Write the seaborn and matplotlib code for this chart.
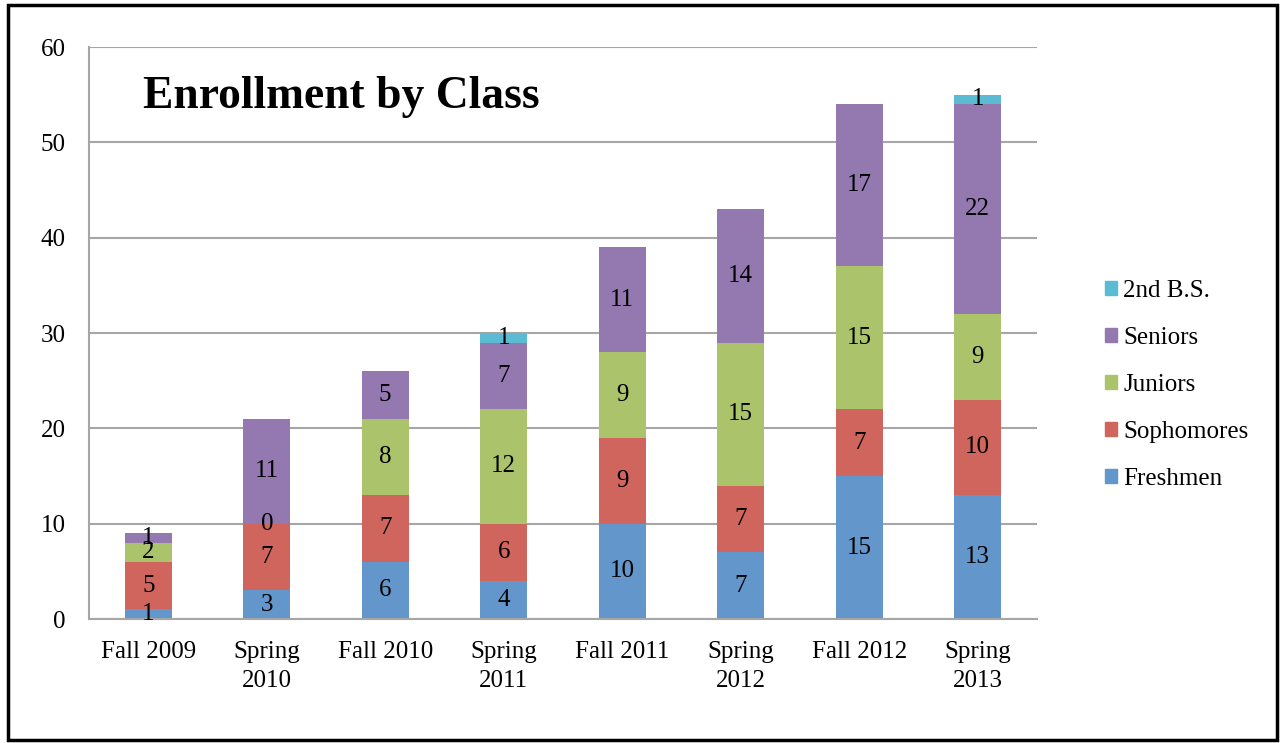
import matplotlib.pyplot as plt
import numpy as np
import seaborn as sns
from matplotlib.patches import Patch, Rectangle

sns.set_style("white")
plt.rcParams["font.family"] = ["Liberation Serif", "DejaVu Serif"]
plt.rcParams["text.color"] = "black"
plt.rcParams["xtick.labelcolor"] = "black"
plt.rcParams["ytick.labelcolor"] = "black"

terms = ["Fall 2009", "Spring\n2010", "Fall 2010", "Spring\n2011",
         "Fall 2011", "Spring\n2012", "Fall 2012", "Spring\n2013"]
freshmen = [1, 3, 6, 4, 10, 7, 15, 13]
sophomores = [5, 7, 7, 6, 9, 7, 7, 10]
juniors = [2, 0, 8, 12, 9, 15, 15, 9]
seniors = [1, 11, 5, 7, 11, 14, 17, 22]
second_bs = [0, 0, 0, 1, 0, 0, 0, 1]

series_names = ["Freshmen", "Sophomores", "Juniors", "Seniors", "2nd B.S."]
series_values = [freshmen, sophomores, juniors, seniors, second_bs]
colors = ["#6396CB", "#CF655D", "#ABC46B", "#9479B1", "#5ABBD3"]

grid_gray = "#A6A6A6"

fig = plt.figure(figsize=(12.81, 7.43), dpi=100)
ax = fig.add_axes([89 / 1281, 1 - 619 / 743, (1037 - 89) / 1281, (619 - 47) / 743])

bottom = np.zeros(len(terms))
for name, vals, color in zip(series_names, series_values, colors):
    sns.barplot(x=terms, y=vals, color=color, saturation=1, width=0.4,
                bottom=bottom, ax=ax, linewidth=0)
    for i, v in enumerate(vals):
        # blank 2nd B.S. cells get no label
        if name == "2nd B.S." and v == 0:
            continue
        ax.text(i, bottom[i] + v / 2, str(v), ha="center", va="center",
                fontsize=18, color="black")
    bottom = bottom + np.array(vals)

ax.set_xlim(-0.5, len(terms) - 0.5)
ax.set_ylim(0, 60)
ax.set_yticks(range(0, 61, 10))
ax.set_xticks(range(len(terms)))
ax.set_xticklabels(terms, fontsize=18, linespacing=1.4)
ax.set_xticks(np.arange(-0.5, len(terms), 1), minor=True)
ax.tick_params(axis="x", which="major", length=0, pad=16)
ax.tick_params(axis="x", which="minor", length=5, width=1.5, color=grid_gray)
ax.tick_params(axis="y", length=5, width=1.5, color=grid_gray, pad=12, labelsize=18)
ax.set_xlabel("")
ax.set_ylabel("")

ax.yaxis.grid(True, color=grid_gray, linewidth=1.5)
ax.set_axisbelow(True)
for side in ["top", "right"]:
    ax.spines[side].set_visible(False)
for side in ["left", "bottom"]:
    ax.spines[side].set_color(grid_gray)
    ax.spines[side].set_linewidth(1.5)

ax.text(0.057, 53.6, "Enrollment by Class", transform=ax.get_yaxis_transform(),
        fontsize=32.8, fontweight="bold", va="baseline", ha="left", color="black")

handles = [Patch(color=c, label=n) for n, c in zip(series_names, colors)][::-1]
fig.legend(handles=handles, loc="center left",
           bbox_to_anchor=(1092 / 1281, 1 - 385 / 743), frameon=False,
           fontsize=18, handlelength=0.5, handleheight=0.5, handletextpad=0.25,
           labelspacing=1.0, borderpad=0)

fig.patches.append(Rectangle((8 / 1281, 3 / 743), (1277 - 8) / 1281, (740 - 5) / 743,
                             transform=fig.transFigure, fill=False,
                             linewidth=2.5, edgecolor="black"))

fig.savefig("out.png", dpi=100)
